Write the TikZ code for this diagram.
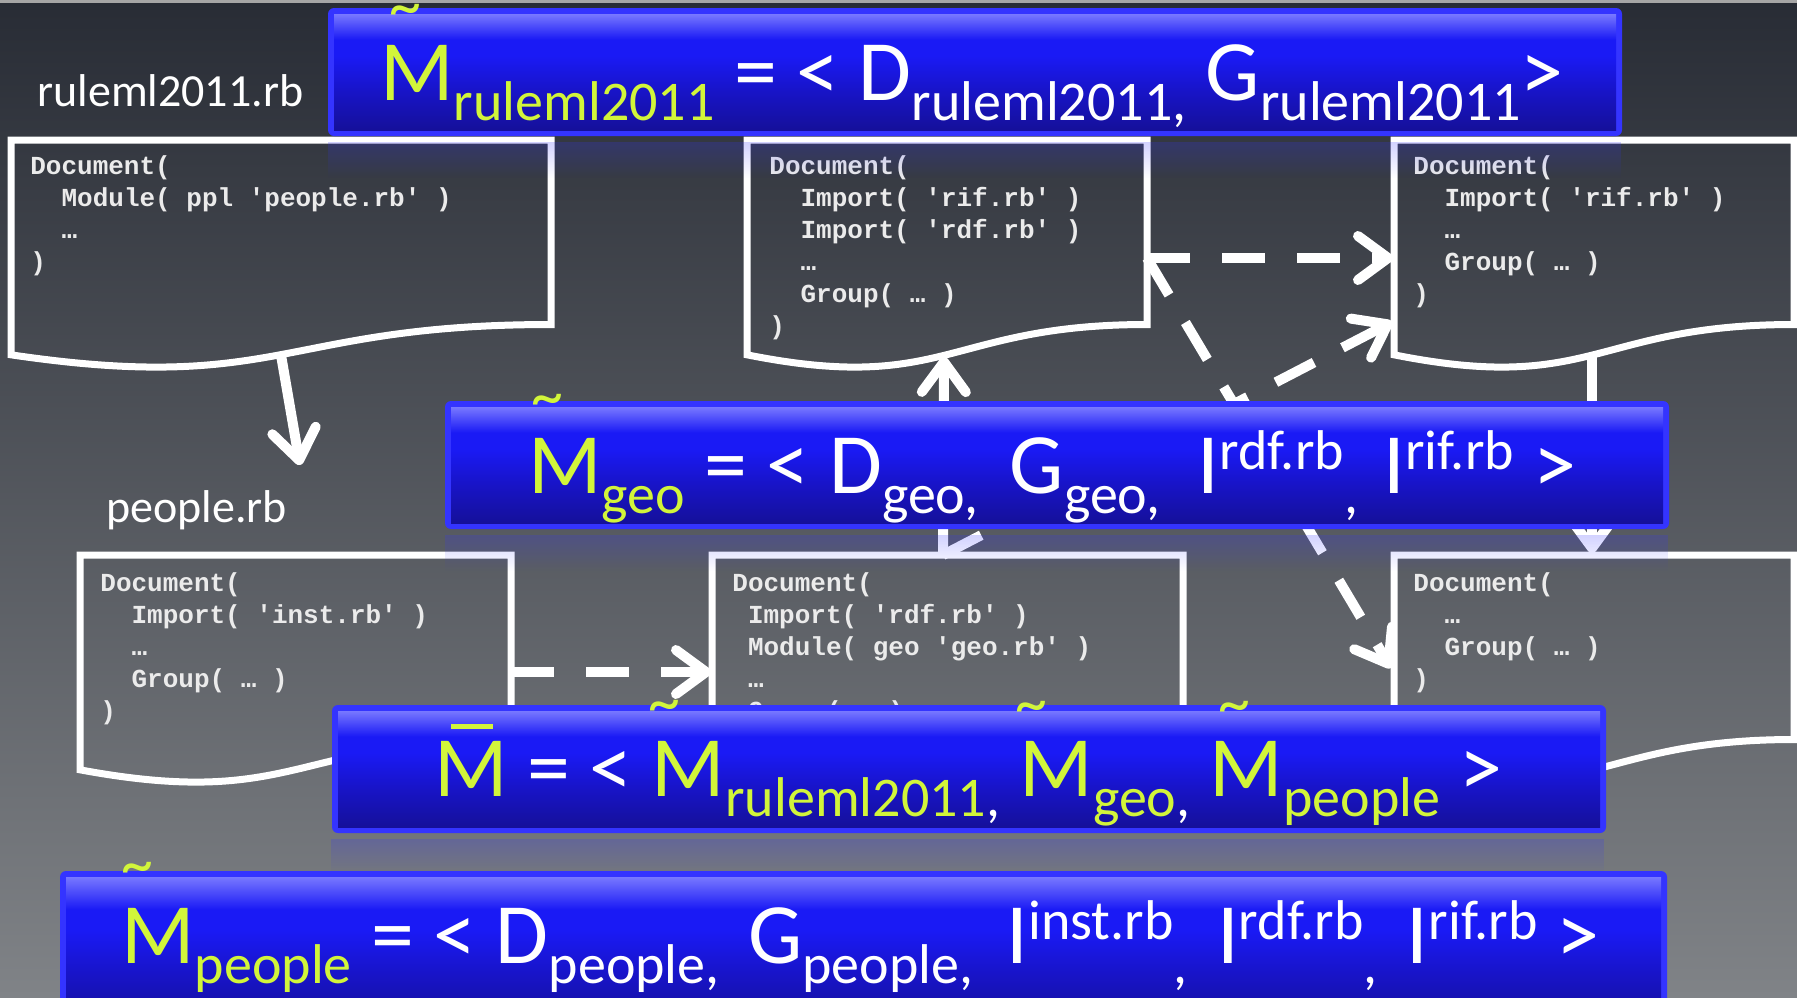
\documentclass[tikz,border=0pt]{standalone}
\usepackage{fontspec}
\setmainfont{Carlito}
\setmonofont{Liberation Mono}
\usetikzlibrary{arrows.meta,fadings}

\definecolor{slidetop}{HTML}{282C35}
\definecolor{slidebot}{HTML}{808387}
\definecolor{accent}{HTML}{D2F53A}
\definecolor{boxedge}{HTML}{3434FF}
\definecolor{boxhi}{HTML}{7878FF}
\definecolor{boxmid}{HTML}{1A1AF5}
\definecolor{boxdeep}{HTML}{1814C8}
\definecolor{boxlo}{HTML}{15109A}
\definecolor{codegray}{HTML}{EBEBEB}

\pgfdeclareverticalshading{boxshade}{100bp}{color(0bp)=(boxlo); color(25bp)=(boxlo);
  color(42bp)=(boxdeep); color(57bp)=(boxmid); color(64bp)=(boxmid);
  color(75bp)=(boxhi); color(100bp)=(boxhi)}
\tikzfading[name=reflfade, top color=transparent!78, bottom color=transparent!100]

\newcommand{\subtxt}[1]{\raisebox{-10pt}{\fontsize{28}{30}\selectfont#1}}
\newcommand{\suptxt}[1]{\raisebox{12pt}{\fontsize{28}{30}\selectfont#1}}
\newcommand{\yg}[1]{\textcolor{accent}{#1}}
\newcommand{\twosp}{\hspace*{1.2em}}
\newcommand{\onesp}{\hspace*{0.6em}}

% document outline: x, y, width
\newcommand{\docshape}[3]{%
  \draw[docline] (#1,#2) -- (#1+#3,#2) -- (#1+#3,#2+184.5)
    .. controls (#1+#3/2,#2+184.5) and (#1+#3/2,#2+254.7) .. (#1,#2+214.8) -- cycle;}

% formula box: x1, y1, x2, y2
\newcommand{\slidebox}[4]{%
  \fill[boxedge, rounded corners=3] (#1,#2) rectangle (#3,#4);
  \shade[shading=boxshade] (#1+6,#2+6) rectangle (#3-6,#4-6);
  \fill[boxedge, path fading=reflfade] (#1,#4+6) rectangle (#3,#4+42);}

\tikzset{
  docline/.style={draw=white, line width=3.5pt, line join=miter},
  % code text is placed by the baseline of its last line
  code/.style={text=codegray, font=\ttfamily\bfseries\fontsize{13}{16}\selectfont,
    align=left, anchor=base west, inner sep=0},
  lbl/.style={text=white, font=\fontsize{23}{26}\selectfont, inner sep=0, anchor=base west},
  formula/.style={text=white, font=\fontsize{43}{46}\selectfont, inner sep=0, anchor=base west},
  wave/.style={text=accent, font=\fontsize{32}{34}\selectfont, inner sep=0},
  link/.style={draw=white, line width=5pt, -{Straight Barb[length=15pt,width=22pt,round]}},
  dlink/.style={link, dash pattern=on 21.5pt off 16pt},
}

\begin{document}
\begin{tikzpicture}[x=0.5pt, y=-0.5pt]
  \useasboundingbox (0,0) rectangle (1797,997);
  \shade[top color=slidetop, bottom color=slidebot] (0,0) rectangle (1797,997);
  \fill[gray!70] (0,0) rectangle (1797,3);

  % documents
  \docshape{11}{140}{540}
  \docshape{747}{140}{400}
  \docshape{1394}{140}{400}
  \docshape{80}{555}{431}
  \docshape{712}{555}{471}
  \docshape{1394}{555}{400}

  \node[code] (docRuleml) at (30,270) {Document(\\\twosp Module( ppl 'people.rb' )\\\twosp …\\)};
  \node[code] (docGeo) at (769,334) {Document(\\\twosp Import( 'rif.rb' )\\\twosp Import( 'rdf.rb' )\\\twosp …\\\twosp Group( … )\\)};
  \node[code] (docRdf) at (1413,302) {Document(\\\twosp Import( 'rif.rb' )\\\twosp …\\\twosp Group( … )\\)};
  \node[code] (docPeople) at (100,719) {Document(\\\twosp Import( 'inst.rb' )\\\twosp …\\\twosp Group( … )\\)};
  \node[code] (docInst) at (732,751) {Document(\\\onesp Import( 'rdf.rb' )\\\onesp Module( geo 'geo.rb' )\\\onesp …\\\onesp Group( … )\\)};
  \node[code] (docRif) at (1413,687) {Document(\\\twosp …\\\twosp Group( … )\\)};

  \node[lbl] (lblRuleml) at (37,106) {ruleml2011.rb};
  \node[lbl] (lblPeople) at (106,522) {people.rb};

  % connectors
  \coordinate (rulemlOut) at (281,355);
  \coordinate (peopleIn) at (300,465);
  \coordinate (geoIn) at (944,357);
  \coordinate (instOut) at (943,555);
  \coordinate (rdfOut) at (1592,355);
  \coordinate (rifIn) at (1592,553);
  \coordinate (geoOut) at (1147,258);
  \coordinate (rdfIn) at (1393,258);
  \coordinate (rifSide) at (1391,668);
  \coordinate (rdfSide) at (1392,322);
  \coordinate (peopleOut) at (511,672);
  \coordinate (instIn) at (711,672);

  \draw[link] (rulemlOut) -- (peopleIn);
  \draw[link] (instOut) -- (geoIn);
  \draw[link] (rdfOut) -- (rifIn);
  \draw[dlink] (geoOut) -- (rdfIn);
  \draw[dlink] (geoOut) -- (rifSide);
  \draw[dlink] (instOut) -- (rdfSide);
  \draw[dlink] (peopleOut) -- (instIn);

  % formula boxes
  \slidebox{328}{8}{1622}{136}
  \slidebox{445}{401}{1669}{529}
  \slidebox{332}{705}{1606}{833}
  \slidebox{60}{871}{1667}{1030}

  \node[formula] (mRuleml) at (380,100) {\yg{M\subtxt{ruleml2011}} = < D\subtxt{ruleml2011,} G\subtxt{ruleml2011}>};
  \node[formula] (mGeo) at (528,493) {\yg{M\subtxt{geo}} = < D\subtxt{geo,} \hspace{6pt}G\subtxt{geo,} \hspace{9pt}I\suptxt{rdf.rb}\subtxt{,} \hspace{3pt}I\suptxt{rif.rb} >};
  \node[formula] (mAll) at (434,796) {\yg{M} = < \yg{M\subtxt{ruleml2011}}\subtxt{,} \yg{M\subtxt{geo}}\subtxt{,} \yg{M\subtxt{people}} >};
  \node[formula] (mPeople) at (121,963) {\yg{M\subtxt{people}} = < D\subtxt{people,} \hspace{4.5pt}G\subtxt{people,} \hspace{7pt}I\suptxt{inst.rb}\subtxt{,} \hspace{5pt}I\suptxt{rdf.rb}\subtxt{,} \hspace{5pt}I\suptxt{rif.rb} >};

  \node[wave] (tRuleml) at (405,16) {\textasciitilde};
  \node[wave] (tGeo) at (547,406) {\textasciitilde};
  \node[wave] (tAllA) at (664,712) {\textasciitilde};
  \node[wave] (tAllB) at (1031,713) {\textasciitilde};
  \node[wave] (tAllC) at (1234,713) {\textasciitilde};
  \node[wave] (tPeople) at (137,874) {\textasciitilde};
  \draw[accent, line width=2.5pt] (451,726) -- (493,726);
\end{tikzpicture}
\end{document}
